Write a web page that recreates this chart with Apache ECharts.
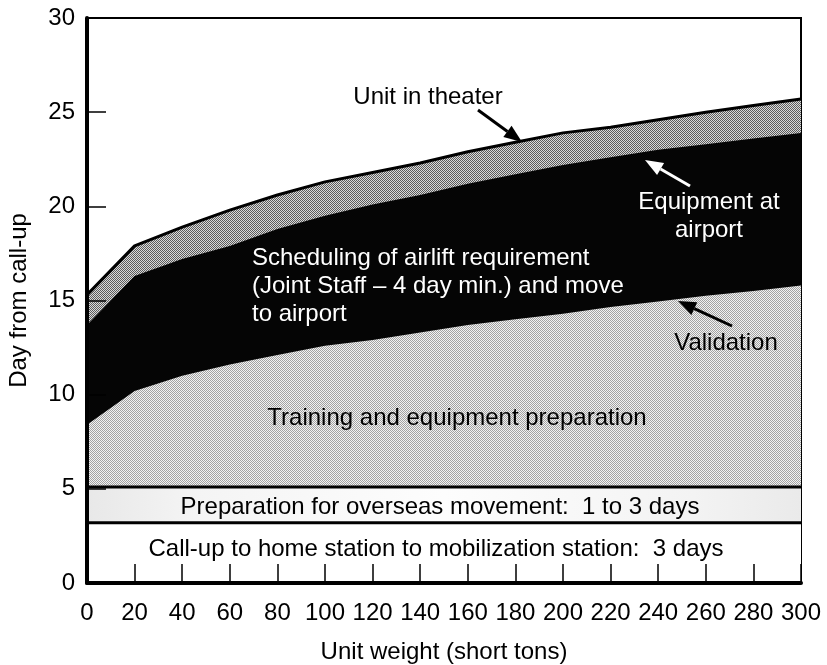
<!DOCTYPE html>
<html>
<head>
<meta charset="utf-8">
<script src="https://cdn.jsdelivr.net/npm/echarts@6/dist/echarts.min.js"></script>
<style>
  html, body { margin: 0; padding: 0; background: #fff; }
  #chart { width: 827px; height: 665px; }
</style>
</head>
<body>
<div id="chart"></div>
<script>
// unit weight (short tons)
var weights = [0, 20, 40, 60, 80, 100, 120, 140, 160, 180, 200, 220, 240, 260, 280, 300];
// day from call-up
var validation = [8.4, 10.2, 11.0, 11.6, 12.1, 12.6, 12.9, 13.3, 13.7, 14.0, 14.3, 14.65, 14.95, 15.25, 15.5, 15.8];
var equipmentAtAirport = [13.7, 16.3, 17.2, 17.9, 18.8, 19.5, 20.1, 20.6, 21.2, 21.7, 22.2, 22.6, 23.0, 23.3, 23.6, 23.9];
var unitInTheater = [15.3, 17.9, 18.9, 19.8, 20.6, 21.3, 21.8, 22.3, 22.9, 23.4, 23.9, 24.2, 24.6, 25.0, 25.35, 25.7];
var bandEnds = [0, 300];
var prepTop = [5.1, 5.1];
var callupTop = [3.2, 3.2];

var FONT = '"Liberation Sans", Arial, Helvetica, sans-serif';
var FS = 24;

function pairs(xs, ys) {
  return xs.map(function (x, i) { return [x, ys[i]]; });
}

function checker(c1, c2) {
  var cv = document.createElement('canvas');
  cv.width = 2; cv.height = 2;
  var ctx = cv.getContext('2d');
  ctx.fillStyle = c2; ctx.fillRect(0, 0, 2, 2);
  ctx.fillStyle = c1; ctx.fillRect(0, 0, 1, 1); ctx.fillRect(1, 1, 1, 1);
  return { image: cv, repeat: 'repeat' };
}

// arrow = shaft + head, two flat graphic elements
function arrow(id, x1, y1, x2, y2, color) {
  var a = Math.atan2(y2 - y1, x2 - x1);
  var len = 18, hw = 7;
  var bx = x2 - len * Math.cos(a), by = y2 - len * Math.sin(a);
  return [{
    id: id + '-shaft', type: 'line', z: 50,
    shape: { x1: x1, y1: y1, x2: bx, y2: by },
    style: { stroke: color, lineWidth: 3 }
  }, {
    id: id + '-head', type: 'polygon', z: 50,
    shape: { points: [[x2, y2],
      [bx + hw * Math.sin(a), by - hw * Math.cos(a)],
      [bx - hw * Math.sin(a), by + hw * Math.cos(a)]] },
    style: { fill: color }
  }];
}

function label(id, text, x, y, color, align) {
  return {
    id: id, type: 'text', z: 50,
    style: {
      text: text, x: x, y: y, fill: color,
      font: FS + 'px ' + FONT,
      align: align || 'center', verticalAlign: 'middle',
      lineHeight: 28
    }
  };
}

var chart = echarts.init(document.getElementById('chart'));

var graphics = [].concat(
  [label('t-theater', 'Unit in theater', 428, 97, '#000')],
  arrow('a-theater', 478, 110, 522, 142, '#000'),
  [label('t-equip', 'Equipment at\nairport', 709, 216, '#fff')],
  arrow('a-equip', 690, 186, 645, 160, '#fff'),
  [label('t-sched', 'Scheduling of airlift requirement\n(Joint Staff \u2013 4 day min.) and move\nto airport', 252, 286, '#fff', 'left')],
  [label('t-valid', 'Validation', 726, 343, '#000')],
  arrow('a-valid', 732, 326, 678, 301, '#000'),
  [label('t-train', 'Training and equipment preparation', 457, 418, '#000')],
  [label('t-prep', 'Preparation for overseas movement:  1 to 3 days', 440, 507, '#000')],
  [label('t-callup', 'Call-up to home station to mobilization station:  3 days', 436, 549, '#000')]
);

var option = {
  animation: false,
  backgroundColor: '#fff',
  grid: {
    left: 87, right: 26, top: 18, bottom: 82,
    outerBoundsMode: 'none', containLabel: false,
    show: true, borderColor: '#000', borderWidth: 2
  },
  xAxis: {
    type: 'value', min: 0, max: 300, interval: 20, z: 5,
    name: 'Unit weight (short tons)', nameLocation: 'middle', nameGap: 57,
    nameTextStyle: { color: '#000', fontSize: FS, fontFamily: FONT },
    axisLine: { lineStyle: { color: '#000', width: 4 } },
    axisTick: { inside: true, length: 19, lineStyle: { color: '#000', width: 1.5 } },
    axisLabel: { color: '#000', fontSize: FS, fontFamily: FONT, margin: 18 },
    splitLine: { show: false }
  },
  yAxis: {
    type: 'value', min: 0, max: 30, interval: 5, z: 5,
    name: 'Day from call-up', nameLocation: 'middle', nameGap: 56,
    nameTextStyle: { color: '#000', fontSize: FS, fontFamily: FONT },
    axisLine: { lineStyle: { color: '#000', width: 4 } },
    axisTick: { inside: true, length: 19, lineStyle: { color: '#000', width: 1.5 } },
    axisLabel: { color: '#000', fontSize: FS, fontFamily: FONT, margin: 12 },
    splitLine: { show: false }
  },
  series: [{
    name: 'Unit in theater', type: 'line', symbol: 'none',
    data: pairs(weights, unitInTheater),
    lineStyle: { color: '#000', width: 3 },
    areaStyle: { color: checker('#5c5c5c', '#dadada'), opacity: 1 }
  }, {
    name: 'Equipment at airport', type: 'line', symbol: 'none',
    data: pairs(weights, equipmentAtAirport),
    lineStyle: { width: 0 },
    areaStyle: { color: '#050505', opacity: 1 }
  }, {
    name: 'Validation', type: 'line', symbol: 'none',
    data: pairs(weights, validation),
    lineStyle: { width: 0 },
    areaStyle: { color: checker('#a2a2a2', '#f2f2f2'), opacity: 1 }
  }, {
    name: 'Preparation', type: 'line', symbol: 'none',
    data: pairs(bandEnds, prepTop),
    lineStyle: { color: '#000', width: 3 },
    areaStyle: {
      opacity: 1,
      color: new echarts.graphic.LinearGradient(0, 0, 1, 0, [
        { offset: 0, color: '#e8e8e8' },
        { offset: 0.15, color: '#f4f4f4' },
        { offset: 0.5, color: '#fdfdfd' },
        { offset: 0.85, color: '#f3f3f3' },
        { offset: 1, color: '#eaeaea' }
      ])
    }
  }, {
    name: 'Call-up', type: 'line', symbol: 'none',
    data: pairs(bandEnds, callupTop),
    lineStyle: { color: '#000', width: 3 },
    areaStyle: { color: '#fff', opacity: 1 }
  }],
  graphic: graphics
};

chart.setOption(option);
</script>
</body>
</html>
